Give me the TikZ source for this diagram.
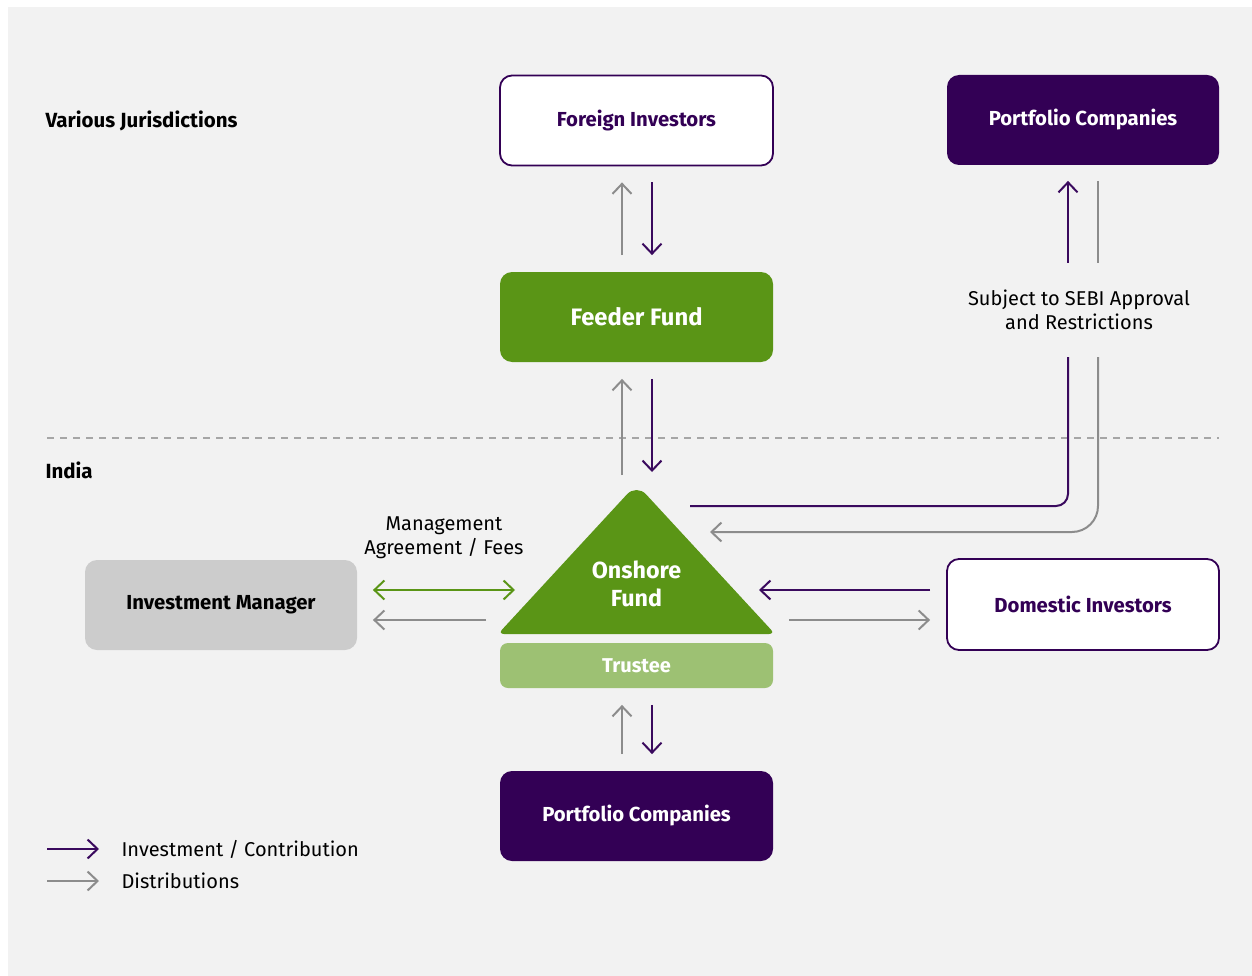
\documentclass[tikz,border=0pt]{standalone}
\usepackage{fontspec}
\setmainfont{Fira Sans}
\usepackage{xcolor}
\usetikzlibrary{arrows.meta, positioning, calc}

\definecolor{bggray}{HTML}{F2F2F2}
\definecolor{darkpurple}{HTML}{330055}
\definecolor{linepurple}{HTML}{3A0A5E}
\definecolor{fundgreen}{HTML}{5A9516}
\definecolor{trusteegreen}{HTML}{9DC173}
\definecolor{mgrgray}{HTML}{CCCCCC}
\definecolor{flowgray}{HTML}{8C8C8C}
\definecolor{dashgray}{HTML}{A6A6A6}

\begin{document}
\begin{tikzpicture}[
    x=1pt, y=-1pt,
    font=\fontsize{20}{24}\selectfont,
    tip/.tip={Straight Barb[length=10pt, width=19pt, line width=2pt]},
    entity/.style={rounded corners=12pt, align=center, minimum width=273pt, minimum height=90pt, font=\fontsize{20.3}{24}\selectfont\bfseries, line width=1.8pt},
    outlinebox/.style={entity, draw=darkpurple, fill=white, text=darkpurple},
    darkbox/.style={entity, fill=darkpurple, text=white},
    invest/.style={-tip, line width=2pt, draw=linepurple},
    distrib/.style={-tip, line width=2pt, draw=flowgray},
    region/.style={font=\fontsize{20.5}{24}\selectfont\bfseries, anchor=west},
    note/.style={align=center, font=\fontsize{20}{24}\selectfont}
]
\useasboundingbox (0,0) rectangle (1252,976);
\fill[bggray] (8,7) rectangle (1252,976);

% === REGIONS ===
\node[region] (various) at (42,121) {Various Jurisdictions};
\node[region] (india) at (42,470) {India};
\draw[dashgray, line width=1.5pt, dash pattern=on 7pt off 6pt] (47,438) coordinate (sepL) -- (1219,438) coordinate (sepR);

% === FOREIGN SIDE ===
\node[outlinebox] (foreign) at (636.5,120.5) {Foreign Investors};
\node[entity, fill=fundgreen, text=white, font=\fontsize{23.8}{28}\selectfont\bfseries] (feeder) at (636.5,317) {Feeder Fund};
\node[darkbox, minimum width=272pt] (portTop) at (1083,120) {Portfolio Companies};
\node[note, minimum height=94pt] (sebi) at (1079,310) {Subject to SEBI Approval\\and Restrictions};

% === ONSHORE FUND ===
\fill[fundgreen] (636.5,634) [rounded corners=6pt] -- (498,634) [rounded corners=14pt] -- (636.5,484) [rounded corners=6pt] -- (775,634) -- cycle;
\coordinate (apex) at (636.5,490);
\node[align=center, text=white, font=\fontsize{23.3}{28}\selectfont\bfseries] (onshore) at (636.5,584) {Onshore\\Fund};
\node[entity, fill=trusteegreen, text=white, minimum height=45pt, rounded corners=8pt, font=\fontsize{20}{24}\selectfont\bfseries] (trustee) at (636.5,665.5) {Trustee};
\node[darkbox] (portBot) at (636.5,816) {Portfolio Companies};

% === INDIA SIDE ===
\node[entity, fill=mgrgray, text=black, minimum width=272pt] (manager) at (221,605) {Investment Manager};
\node[note] (mgmt) at (444,538) {Management\\Agreement / Fees};
\node[outlinebox, minimum width=272pt, minimum height=91pt] (domestic) at (1083,604.5) {Domestic Investors};

% === ARROW END POINTS ===
\coordinate (triL1) at (515,590);
\coordinate (triL2) at (486,620);
\coordinate (triR1) at (759,590);
\coordinate (triR2) at (789,620);
\coordinate (backIn) at (690,506);
\coordinate (backOut) at (710,532);

% === ARROWS ===
% Foreign investors <-> feeder fund
\draw[distrib, shorten <=16pt, shorten >=16pt] ([xshift=-14.5pt]feeder.north) -- ([xshift=-14.5pt]foreign.south);
\draw[invest, shorten <=16pt, shorten >=16pt] ([xshift=15.5pt]foreign.south) -- ([xshift=15.5pt]feeder.north);

% Feeder fund <-> onshore fund
\draw[distrib, shorten <=15pt, shorten >=16pt] ([xshift=-14.5pt]apex) -- ([xshift=-14.5pt]feeder.south);
\draw[invest, shorten <=16pt, shorten >=18pt] ([xshift=15.5pt]feeder.south) -- ([xshift=15.5pt]apex);

% Onshore fund <-> portfolio companies
\draw[distrib, shorten <=16pt, shorten >=16pt] ([xshift=-14.5pt]portBot.north) -- ([xshift=-14.5pt]trustee.south);
\draw[invest, shorten <=16pt, shorten >=16pt] ([xshift=15.5pt]trustee.south) -- ([xshift=15.5pt]portBot.north);

% Investment manager
\draw[tip-tip, line width=2pt, draw=fundgreen, shorten <=15pt] (manager.east |- triL1) -- (triL1);
\draw[distrib, shorten >=15pt] (triL2) -- (manager.east |- triL2);

% Domestic investors
\draw[invest, shorten <=16pt] (domestic.west |- triR1) -- (triR1);
\draw[distrib, shorten >=16pt] (triR2) -- (domestic.west |- triR2);

% Offshore portfolio companies
\draw[invest, shorten >=15pt] ([xshift=-15pt]sebi.north -| portTop.south) -- ([xshift=-15pt]portTop.south);
\draw[line width=2pt, draw=flowgray, shorten <=15pt] ([xshift=15pt]portTop.south) -- ([xshift=15pt]sebi.north -| portTop.south);
\draw[line width=2pt, draw=linepurple, rounded corners=12pt] ([xshift=-15pt]sebi.south -| portTop.south) |- (backIn);
\draw[distrib, rounded corners=26pt] ([xshift=15pt]sebi.south -| portTop.south) |- (backOut);

% === LEGEND ===
\coordinate (legInv) at (47,849);
\coordinate (legDis) at (47,881);
\node[anchor=west] (legInvText) at (118,849) {Investment / Contribution};
\node[anchor=west] (legDisText) at (118,881) {Distributions};
\draw[invest] (legInv) -- (legInvText.west -| 99,0);
\draw[distrib] (legDis) -- (legDisText.west -| 99,0);

\end{tikzpicture}
\end{document}
